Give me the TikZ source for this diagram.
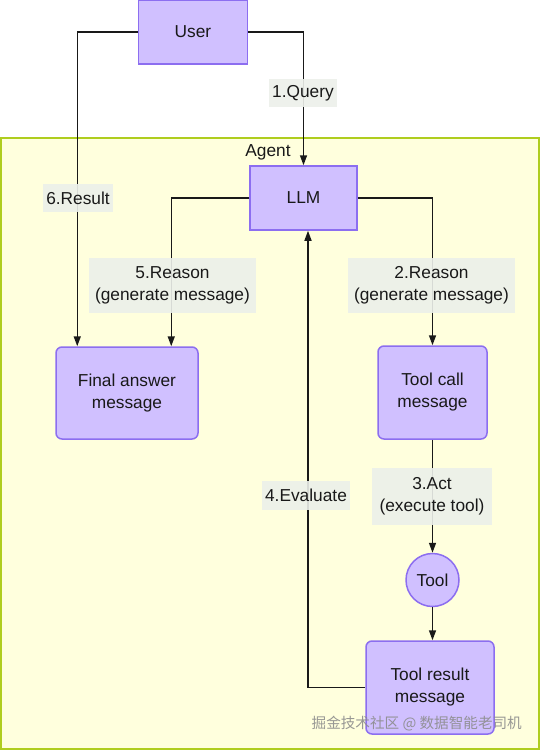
\documentclass[tikz,border=0pt]{standalone}
\usepackage{fontspec}
\setmainfont{Liberation Sans}
\newfontfamily\cjk{Noto Sans CJK SC}
\usetikzlibrary{arrows.meta,calc}
\definecolor{boxfill}{RGB}{208,192,255}
\definecolor{boxline}{RGB}{140,110,240}
\definecolor{agentfill}{RGB}{255,255,221}
\definecolor{agentline}{RGB}{175,205,30}
\definecolor{lblfill}{RGB}{236,240,234}
\definecolor{wmgrey}{RGB}{140,140,140}
\tikzset{
  every node/.style={font=\fontsize{17.3}{22}\selectfont, text=black!90},
  pbox/.style={draw=boxline, fill=boxfill, line width=1.5pt, align=center, inner sep=0pt},
  rbox/.style={pbox, rounded corners=6pt},
  lbl/.style={fill=lblfill, fill opacity=0.9, text opacity=1, align=center, inner sep=0pt},
  conn/.style={line width=1.5pt, draw=black!90, -{Triangle[length=10pt,width=7pt]}},
  plain/.style={line width=1.5pt, draw=black!90}
}
\begin{document}
\begin{tikzpicture}[x=1pt,y=-1pt]
\useasboundingbox (0,0) rectangle (540,750);
% agent container
\draw[draw=agentline, fill=agentfill, line width=2pt] (1,137.5) rectangle (539,749);
\node (agentlbl) at (268,152) {Agent};
% nodes
\node[pbox, minimum width=109pt, minimum height=64pt] (user) at (193,32) {User};
\node[pbox, minimum width=107pt, minimum height=64pt] (llm) at (303.5,198) {LLM};
\node[rbox, minimum width=142pt, minimum height=92pt] (final) at (127,393) {Final answer\\message};
\node[rbox, minimum width=109pt, minimum height=93pt] (toolcall) at (432.5,392.5) {Tool call\\message};
\node[pbox, circle, minimum size=53pt] (tool) at (432.5,580) {Tool};
\node[rbox, minimum width=128pt, minimum height=93pt] (toolresult) at (430,687.5) {Tool result\\message};
% helper coordinates
\coordinate (f1) at ($(final.north west)+(22,0)$);
\coordinate (f2) at ($(final.north west)+(116,0)$);
\coordinate (ls) at ($(llm.south)+(4.5,0)$);
% connectors
\draw[conn] (user.west) -| (f1);
\draw[conn] (user.east) -| (llm.north);
\draw[conn] (llm.west) -| (f2);
\draw[conn] (llm.east) -| (toolcall.north);
\draw[conn] (toolcall.south) -- (tool.north);
\draw[conn] (tool.south) -- (tool.south |- toolresult.north);
\draw[conn] (toolresult.west) -| (ls);
% labels
\node[lbl, minimum width=68pt, minimum height=28pt] (q1) at (303,93) {1.Query};
\node[lbl, minimum width=70pt, minimum height=28pt] (r6) at (78,198) {6.Result};
\node[lbl, minimum width=167pt, minimum height=55pt] (r5) at (172.5,285.5) {5.Reason\\(generate message)};
\node[lbl, minimum width=167pt, minimum height=55pt] (r2) at (431.5,285.5) {2.Reason\\(generate message)};
\node[lbl, minimum width=120pt, minimum height=57pt] (a3) at (432,496.5) {3.Act\\(execute tool)};
\node[lbl, minimum width=88pt, minimum height=29pt] (e4) at (306,495.5) {4.Evaluate};
% watermark
\node[anchor=east, inner sep=0pt, font=\cjk\fontsize{14.6}{18}\selectfont, text=wmgrey, text opacity=0.9] (wm) at (522,724) {掘金技术社区 @ 数据智能老司机};
\end{tikzpicture}
\end{document}
